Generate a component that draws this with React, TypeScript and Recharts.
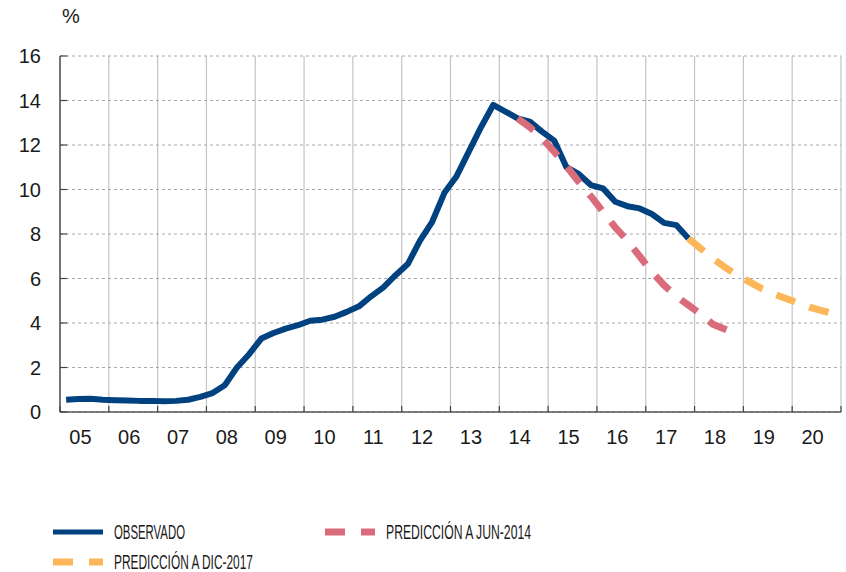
import React from "react";
import {
  LineChart,
  Line,
  XAxis,
  YAxis,
  CartesianGrid,
} from "recharts";

// tasa trimestral, 2005T1 .. 2017T4
const observado = [
  0.55, 0.58, 0.6, 0.55, 0.53, 0.52, 0.5, 0.5, 0.48, 0.5, 0.55, 0.68,
  0.85, 1.2, 2.0, 2.6, 3.3, 3.55, 3.75, 3.9, 4.1, 4.15, 4.28, 4.5,
  4.75, 5.2, 5.6, 6.15, 6.65, 7.7, 8.55, 9.85, 10.6, 11.7, 12.8, 13.8,
  13.5, 13.2, 13.05, 12.6, 12.2, 11.0, 10.7, 10.2, 10.05, 9.45, 9.25, 9.15,
  8.9, 8.5, 8.4, 7.8,
];
// 2014T2 .. 2018T4
const prediccionJun2014 = [
  13.2, 12.8, 12.3, 11.7, 11.05, 10.35, 9.7, 9.0, 8.3, 7.7, 7.0, 6.3,
  5.7, 5.2, 4.8, 4.4, 3.95, 3.72, 3.5,
];
const inicioJun2014 = 37;
// 2017T4 .. 2020T4
const prediccionDic2017 = [
  7.8, 7.35, 6.9, 6.5, 6.15, 5.85, 5.55, 5.3, 5.1, 4.9, 4.7, 4.55, 4.4,
];
const inicioDic2017 = 51;

const years = ["05", "06", "07", "08", "09", "10", "11", "12", "13", "14", "15", "16", "17", "18", "19", "20"];
const yTicks = [0, 2, 4, 6, 8, 10, 12, 14, 16];

const BLUE = "#00427f";
const PINK = "#d96b7b";
const YELLOW = "#fdb75a";
const FONT = "'Liberation Sans', Arial, Helvetica, sans-serif";

const W = 846;
const H = 572;
const M = { top: 56, right: 5, left: 0, bottom: 120 };
const Y_W = 60;
const YEAR_PX = (W - M.left - M.right - Y_W) / years.length;

const nQuarters = years.length * 4;
const data = Array.from({ length: nQuarters }, (_, i) => {
  const j = i - inicioJun2014;
  const d = i - inicioDic2017;
  return {
    x: i + 0.5,
    obs: i < observado.length ? observado[i] : null,
    jun: j >= 0 && j < prediccionJun2014.length ? prediccionJun2014[j] : null,
    dic: d >= 0 && d < prediccionDic2017.length ? prediccionDic2017[d] : null,
  };
});
const xTicks = Array.from({ length: years.length + 1 }, (_, k) => k * 4);

const XTick = (props: any) => {
  const { x, y, payload } = props;
  const k = payload.value / 4;
  return (
    <g>
      <line x1={x} x2={x} y1={y - 6} y2={y} stroke="#444" strokeWidth={1.2} />
      {k < years.length && (
        <text x={x + YEAR_PX / 2 - 4} y={y + 32} textAnchor="middle" fontSize={20} fill="#1a1a1a" fontFamily={FONT}>
          {years[k]}
        </text>
      )}
    </g>
  );
};

const YTick = (props: any) => {
  const { x, y, payload } = props;
  return (
    <g>
      <line x1={x} x2={x + 7} y1={y} y2={y} stroke="#444" strokeWidth={1.2} />
      <text x={x - 19} y={y + 7} textAnchor="end" fontSize={20} fill="#1a1a1a" fontFamily={FONT}>
        {payload.value}
      </text>
    </g>
  );
};

const legendItems = [
  { label: "OBSERVADO", color: BLUE, dashed: false, x: 53, y: 532, w: 71 },
  { label: "PREDICCIÓN A JUN-2014", color: PINK, dashed: true, x: 325, y: 532, w: 145 },
  { label: "PREDICCIÓN A DIC-2017", color: YELLOW, dashed: true, x: 53, y: 562, w: 139 },
];

function ChartLegend() {
  return (
    <svg width={W} height={H} style={{ position: "absolute", left: 0, top: 0, pointerEvents: "none" }}>
      {legendItems.map((it) => (
        <g key={it.label}>
          <line
            x1={it.x}
            x2={it.x + 50}
            y1={it.y}
            y2={it.y}
            stroke={it.color}
            strokeWidth={it.dashed ? 7 : 5}
            strokeDasharray={it.dashed ? "20 16" : undefined}
          />
          <text
            x={it.x + 61}
            y={it.y + 7}
            fontSize={20}
            fill="#1a1a1a"
            fontFamily={FONT}
            textLength={it.w}
            lengthAdjust="spacingAndGlyphs"
          >
            {it.label}
          </text>
        </g>
      ))}
    </svg>
  );
}

export default function App() {
  return (
    <div style={{ position: "absolute", left: 0, top: 0, width: W, height: H, background: "#fff" }}>
      <LineChart width={W} height={H} data={data} margin={M}>
        <CartesianGrid horizontal={false} stroke="#c4c4c4" strokeWidth={1.2} />
        <CartesianGrid vertical={false} stroke="#a8a8a8" strokeDasharray="3 3" />
        <XAxis
          dataKey="x"
          type="number"
          domain={[0, nQuarters]}
          ticks={xTicks}
          interval={0}
          tickSize={0}
          tickMargin={0}
          height={40}
          axisLine={{ stroke: "#555", strokeWidth: 1.5 }}
          tickLine={false}
          tick={<XTick />}
        />
        <YAxis
          type="number"
          domain={[0, 16]}
          ticks={yTicks}
          interval={0}
          width={Y_W}
          tickSize={0}
          tickMargin={0}
          axisLine={{ stroke: "#555", strokeWidth: 1.5 }}
          tickLine={false}
          tick={<YTick />}
        />
        <Line dataKey="obs" stroke={BLUE} strokeWidth={6} dot={false} isAnimationActive={false} strokeLinejoin="round" />
        <Line dataKey="jun" stroke={PINK} strokeWidth={7} strokeDasharray="20 15" dot={false} isAnimationActive={false} />
        <Line dataKey="dic" stroke={YELLOW} strokeWidth={7} strokeDasharray="20 15" dot={false} isAnimationActive={false} />
      </LineChart>
      <div style={{ position: "absolute", left: 62, top: 5, fontSize: 20, fontFamily: FONT, color: "#1a1a1a" }}>%</div>
      <ChartLegend />
    </div>
  );
}
